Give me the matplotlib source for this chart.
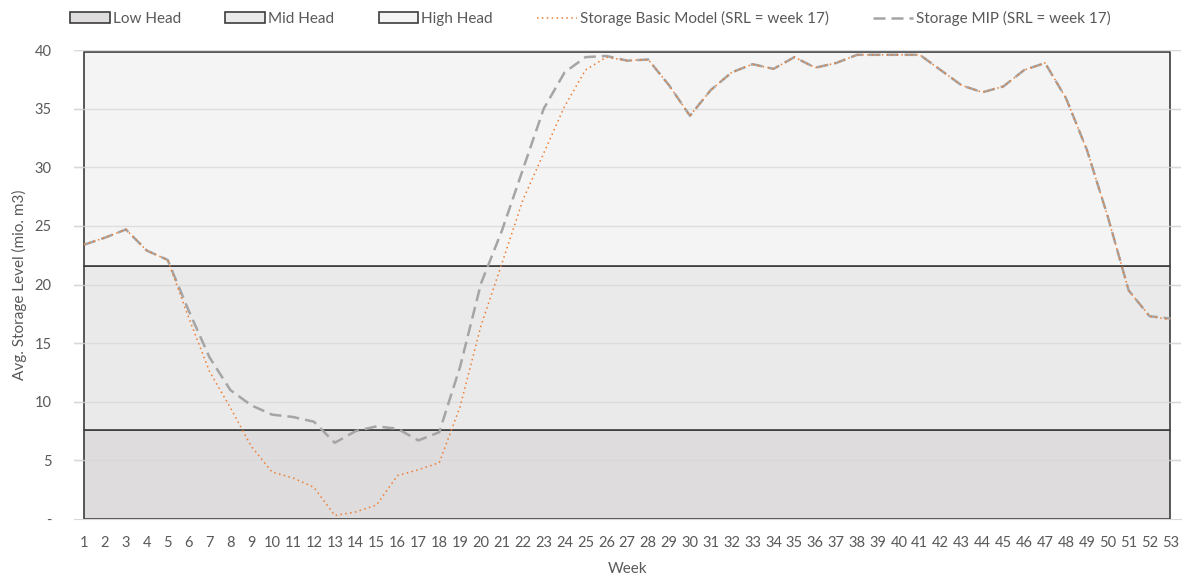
import matplotlib.pyplot as plt
from matplotlib.patches import Patch
from matplotlib.lines import Line2D

plt.rcParams['font.family'] = ['Lato', 'DejaVu Sans']

weeks = list(range(1, 54))

# band limits (mio. m3)
LOW_TOP = 7.6
MID_TOP = 21.6
HIGH_TOP = 39.8

basic = [23.4, 24.0, 24.7, 22.9, 22.1, 17.2, 12.6, 9.5, 6.2, 4.0,
         3.5, 2.7, 0.3, 0.6, 1.2, 3.7, 4.2, 4.8, 9.6, 16.5,
         21.8, 27.2, 31.2, 35.2, 38.3, 39.4, 39.1, 39.2, 37.0, 34.4,
         36.6, 38.1, 38.8, 38.4, 39.4, 38.5, 38.9, 39.6, 39.6, 39.6,
         39.6, 38.3, 37.0, 36.4, 36.9, 38.3, 38.9, 35.9, 31.5, 25.8,
         19.5, 17.3, 17.0]

mip = [23.4, 24.0, 24.7, 22.9, 22.1, 17.8, 13.8, 11.0, 9.7, 8.9,
       8.7, 8.3, 6.5, 7.5, 7.9, 7.7, 6.7, 7.4, 13.0, 20.1,
       24.6, 29.8, 35.0, 38.1, 39.4, 39.5, 39.1, 39.2, 37.0, 34.4,
       36.6, 38.1, 38.8, 38.4, 39.4, 38.5, 38.9, 39.6, 39.6, 39.6,
       39.6, 38.3, 37.0, 36.4, 36.9, 38.3, 38.9, 35.9, 31.5, 25.8,
       19.5, 17.3, 17.1]

low_c = '#dedcdd'
mid_c = '#eaeaea'
high_c = '#f4f4f4'
edge_c = '#3c3c3c'
txt_c = '#595959'

fig = plt.figure(figsize=(11.88, 5.76), dpi=100)
ax = fig.add_axes([0.062, 0.099, 0.932, 0.814])

ax.set_axisbelow(True)
for y in range(5, 45, 5):
    ax.axhline(y, color='#d9d9d9', lw=1.0, zorder=0)

ax.fill_between(weeks, 0, [LOW_TOP] * 53, facecolor=low_c, edgecolor=edge_c, lw=1.2, zorder=1)
ax.fill_between(weeks, [LOW_TOP] * 53, [MID_TOP] * 53, facecolor=mid_c, edgecolor=edge_c, lw=1.2, zorder=1)
ax.fill_between(weeks, [MID_TOP] * 53, [HIGH_TOP] * 53, facecolor=high_c, edgecolor=edge_c, lw=1.2, zorder=1)

for y in range(5, 45, 5):
    ax.axhline(y, color='#d9d9d9', lw=1.0, alpha=0.8, zorder=1.5)

ax.plot(weeks, mip, color='#a5a5a5', lw=1.8, dashes=(4.8, 2.4), zorder=3)
ax.plot(weeks, basic, color='#ed7d31', lw=1.1, dashes=(1, 2.2), zorder=4)

ax.set_xlim(0.5, 53.5)
ax.set_ylim(0, 40)
ax.set_xticks(weeks)
ax.set_xticklabels([str(w) for w in weeks])
ax.set_yticks(range(0, 45, 5))
ax.set_yticklabels(['-'] + [str(v) for v in range(5, 45, 5)])
ax.tick_params(length=0, colors=txt_c, labelsize=10.5)
ax.tick_params(axis='x', pad=12)
ax.tick_params(axis='y', pad=16)
for s in ['top', 'right', 'left']:
    ax.spines[s].set_visible(False)
ax.spines['bottom'].set_color('#d9d9d9')
ax.set_xlabel('Week', color=txt_c, fontsize=11, labelpad=9)
ax.set_ylabel('Avg. Storage Level (mio. m3)', color=txt_c, fontsize=11, labelpad=5)

handles = [
    Patch(facecolor=low_c, edgecolor=edge_c, lw=1.2, label='Low Head'),
    Patch(facecolor=mid_c, edgecolor=edge_c, lw=1.2, label='Mid Head'),
    Patch(facecolor=high_c, edgecolor=edge_c, lw=1.2, label='High Head'),
    Line2D([], [], color='#ed7d31', lw=1.1, dashes=(1, 2.2), label='Storage Basic Model (SRL = week 17)'),
    Line2D([], [], color='#a5a5a5', lw=1.8, dashes=(4.8, 2.4), label='Storage MIP (SRL = week 17)'),
]
leg = fig.legend(handles=handles, loc='upper center', bbox_to_anchor=(0.497, 1.005), ncol=5,
                 frameon=False, fontsize=11, handlelength=2.6, handleheight=0.7,
                 handletextpad=0.2, columnspacing=2.9, labelcolor=txt_c)

fig.savefig('out.png', dpi=100)
